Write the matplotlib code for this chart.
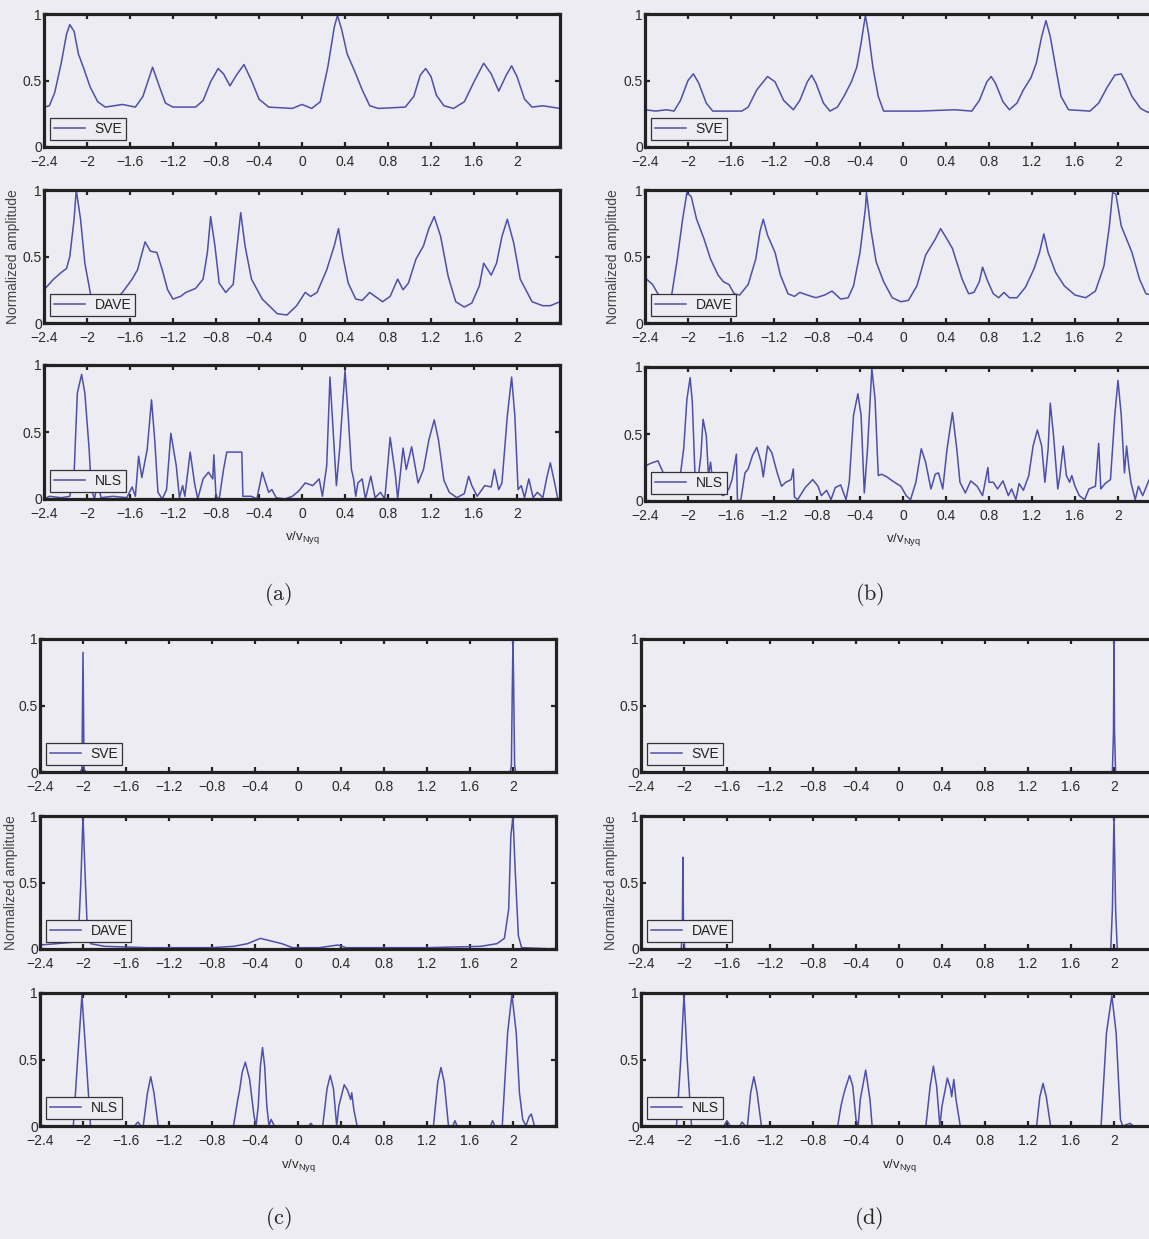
import matplotlib
matplotlib.use('Agg')
import matplotlib.pyplot as plt

W, H = 1149, 1239
BG = '#edecf3'
LINE = '#4d4fa8'
INK = '#222222'

plt.rcParams['font.family'] = ['Liberation Sans', 'DejaVu Sans']
plt.rcParams['mathtext.default'] = 'regular'

# ---------------- labels ----------------
xticks = [-2.4, -2.0, -1.6, -1.2, -0.8, -0.4, 0.0, 0.4, 0.8, 1.2, 1.6, 2.0]
xticklabels = ['\u22122.4', '\u22122', '\u22121.6', '\u22121.2', '\u22120.8', '\u22120.4',
               '0', '0.4', '0.8', '1.2', '1.6', '2']
yticks = [0, 0.5, 1]
yticklabels = ['0', '0.5', '1']
methods = ['SVE', 'DAVE', 'NLS']
panel_names = ['(a)', '(b)', '(c)', '(d)']
ylabel_text = 'Normalized amplitude'
xlabel_text = r'v/v$_{Nyq}$'

# ---------------- data: (normalized frequency, normalized amplitude) ----------------
a_sve = [(-2.40, 0.30), (-2.35, 0.31), (-2.30, 0.41), (-2.24, 0.63), (-2.19, 0.85), (-2.16, 0.92),
         (-2.12, 0.87), (-2.08, 0.70), (-2.03, 0.59), (-1.97, 0.45), (-1.90, 0.34), (-1.83, 0.30),
         (-1.67, 0.32), (-1.55, 0.30), (-1.48, 0.38), (-1.39, 0.60), (-1.32, 0.44), (-1.27, 0.33),
         (-1.20, 0.30), (-1.13, 0.30), (-0.99, 0.30), (-0.92, 0.35), (-0.85, 0.49), (-0.78, 0.59),
         (-0.73, 0.55), (-0.67, 0.46), (-0.61, 0.54), (-0.54, 0.62), (-0.47, 0.50), (-0.40, 0.36),
         (-0.31, 0.30), (-0.09, 0.29), (0.00, 0.32), (0.09, 0.29), (0.17, 0.34), (0.24, 0.60),
         (0.30, 0.90), (0.33, 0.99), (0.37, 0.88), (0.42, 0.70), (0.49, 0.57), (0.56, 0.43),
         (0.63, 0.31), (0.71, 0.29), (0.96, 0.30), (1.04, 0.38), (1.10, 0.54), (1.15, 0.59),
         (1.20, 0.53), (1.25, 0.39), (1.32, 0.31), (1.41, 0.29), (1.51, 0.34), (1.60, 0.49),
         (1.69, 0.63), (1.76, 0.55), (1.83, 0.42), (1.90, 0.54), (1.95, 0.61), (2.00, 0.53),
         (2.07, 0.36), (2.14, 0.30), (2.24, 0.31), (2.40, 0.29)]

a_dave = [(-2.40, 0.25), (-2.31, 0.33), (-2.24, 0.38), (-2.19, 0.41), (-2.16, 0.50), (-2.12, 0.78),
          (-2.10, 1.00), (-2.06, 0.78), (-2.02, 0.45), (-1.97, 0.23), (-1.94, 0.10), (-1.83, 0.10),
          (-1.67, 0.23), (-1.58, 0.33), (-1.53, 0.40), (-1.46, 0.61), (-1.41, 0.54), (-1.35, 0.53),
          (-1.30, 0.40), (-1.25, 0.25), (-1.20, 0.18), (-1.13, 0.20), (-1.08, 0.23), (-0.99, 0.26),
          (-0.92, 0.33), (-0.88, 0.53), (-0.85, 0.80), (-0.81, 0.58), (-0.77, 0.30), (-0.71, 0.23),
          (-0.64, 0.29), (-0.61, 0.53), (-0.57, 0.83), (-0.53, 0.58), (-0.47, 0.33), (-0.37, 0.18),
          (-0.23, 0.07), (-0.14, 0.06), (-0.05, 0.13), (0.03, 0.23), (0.08, 0.20), (0.14, 0.23),
          (0.23, 0.40), (0.30, 0.58), (0.34, 0.71), (0.38, 0.50), (0.43, 0.30), (0.50, 0.18),
          (0.56, 0.17), (0.63, 0.23), (0.68, 0.20), (0.75, 0.16), (0.82, 0.20), (0.89, 0.33),
          (0.94, 0.25), (0.99, 0.30), (1.06, 0.48), (1.13, 0.58), (1.18, 0.71), (1.23, 0.80),
          (1.29, 0.65), (1.36, 0.35), (1.43, 0.16), (1.51, 0.12), (1.58, 0.15), (1.65, 0.28),
          (1.69, 0.45), (1.76, 0.36), (1.81, 0.45), (1.86, 0.65), (1.91, 0.78), (1.97, 0.60),
          (2.03, 0.33), (2.14, 0.16), (2.24, 0.13), (2.31, 0.13), (2.40, 0.16)]

a_nls = [(-2.40, 0.00), (-2.35, 0.02), (-2.24, 0.01), (-2.16, 0.02), (-2.12, 0.19), (-2.09, 0.79),
         (-2.05, 0.93), (-2.02, 0.79), (-1.98, 0.37), (-1.96, 0.07), (-1.93, 0.00), (-1.90, 0.14),
         (-1.87, 0.01), (-1.76, 0.02), (-1.63, 0.01), (-1.58, 0.09), (-1.55, 0.02), (-1.52, 0.32),
         (-1.49, 0.16), (-1.44, 0.37), (-1.40, 0.74), (-1.37, 0.44), (-1.34, 0.05), (-1.30, 0.00),
         (-1.26, 0.07), (-1.22, 0.49), (-1.17, 0.25), (-1.14, 0.01), (-1.11, 0.10), (-1.09, 0.02),
         (-1.04, 0.35), (-1.00, 0.12), (-0.97, 0.00), (-0.92, 0.15), (-0.87, 0.20), (-0.83, 0.15),
         (-0.82, 0.33), (-0.80, 0.02), (-0.77, 0.00), (-0.73, 0.22), (-0.70, 0.35), (-0.63, 0.35),
         (-0.56, 0.35), (-0.55, 0.02), (-0.47, 0.02), (-0.42, 0.00), (-0.37, 0.20), (-0.31, 0.05),
         (-0.28, 0.07), (-0.24, 0.01), (-0.16, 0.00), (-0.09, 0.02), (-0.03, 0.06), (0.03, 0.12),
         (0.10, 0.10), (0.16, 0.15), (0.19, 0.02), (0.23, 0.25), (0.26, 0.91), (0.30, 0.37),
         (0.32, 0.10), (0.35, 0.37), (0.40, 0.96), (0.43, 0.62), (0.46, 0.22), (0.48, 0.15),
         (0.50, 0.02), (0.52, 0.12), (0.56, 0.15), (0.59, 0.00), (0.64, 0.17), (0.68, 0.01),
         (0.73, 0.05), (0.77, 0.00), (0.82, 0.46), (0.87, 0.17), (0.89, 0.00), (0.94, 0.38),
         (0.97, 0.22), (1.02, 0.39), (1.08, 0.12), (1.13, 0.22), (1.18, 0.44), (1.23, 0.59),
         (1.27, 0.44), (1.32, 0.14), (1.37, 0.05), (1.44, 0.01), (1.51, 0.04), (1.55, 0.17),
         (1.58, 0.10), (1.63, 0.02), (1.70, 0.10), (1.76, 0.09), (1.79, 0.22), (1.83, 0.07),
         (1.86, 0.12), (1.91, 0.62), (1.95, 0.91), (1.98, 0.62), (2.01, 0.07), (2.04, 0.10),
         (2.07, 0.01), (2.11, 0.15), (2.15, 0.01), (2.19, 0.05), (2.24, 0.01), (2.28, 0.17),
         (2.31, 0.27), (2.35, 0.12), (2.38, 0.00), (2.40, 0.00)]

b_sve = [(-2.40, 0.28), (-2.30, 0.27), (-2.20, 0.28), (-2.13, 0.27), (-2.07, 0.35), (-2.00, 0.50),
         (-1.95, 0.55), (-1.90, 0.48), (-1.83, 0.33), (-1.77, 0.27), (-1.50, 0.27), (-1.44, 0.30),
         (-1.36, 0.43), (-1.26, 0.53), (-1.19, 0.49), (-1.11, 0.35), (-1.02, 0.28), (-0.96, 0.35),
         (-0.89, 0.49), (-0.85, 0.54), (-0.81, 0.48), (-0.74, 0.33), (-0.68, 0.27), (-0.61, 0.30),
         (-0.55, 0.38), (-0.48, 0.49), (-0.43, 0.60), (-0.39, 0.78), (-0.35, 0.99), (-0.32, 0.85),
         (-0.28, 0.60), (-0.23, 0.38), (-0.18, 0.27), (0.15, 0.27), (0.48, 0.28), (0.64, 0.27),
         (0.71, 0.35), (0.78, 0.49), (0.82, 0.53), (0.86, 0.48), (0.93, 0.34), (0.99, 0.28),
         (1.06, 0.33), (1.12, 0.43), (1.19, 0.52), (1.24, 0.63), (1.29, 0.83), (1.33, 0.95),
         (1.37, 0.83), (1.42, 0.60), (1.47, 0.38), (1.54, 0.28), (1.74, 0.27), (1.82, 0.33),
         (1.90, 0.45), (1.97, 0.54), (2.03, 0.55), (2.07, 0.49), (2.13, 0.38), (2.21, 0.29),
         (2.28, 0.26), (2.36, 0.30), (2.40, 0.32)]

b_dave = [(-2.40, 0.34), (-2.33, 0.29), (-2.28, 0.22), (-2.21, 0.15), (-2.15, 0.22), (-2.10, 0.48),
          (-2.05, 0.78), (-2.01, 0.98), (-1.97, 0.95), (-1.92, 0.78), (-1.85, 0.63), (-1.79, 0.48),
          (-1.72, 0.36), (-1.67, 0.31), (-1.62, 0.29), (-1.57, 0.22), (-1.52, 0.21), (-1.44, 0.29),
          (-1.37, 0.48), (-1.33, 0.69), (-1.30, 0.78), (-1.26, 0.66), (-1.19, 0.53), (-1.14, 0.36),
          (-1.07, 0.22), (-1.01, 0.20), (-0.96, 0.23), (-0.89, 0.21), (-0.81, 0.19), (-0.73, 0.21),
          (-0.66, 0.24), (-0.58, 0.18), (-0.51, 0.19), (-0.46, 0.28), (-0.40, 0.53), (-0.35, 0.86),
          (-0.34, 0.98), (-0.30, 0.71), (-0.25, 0.46), (-0.18, 0.31), (-0.10, 0.19), (-0.02, 0.16),
          (0.05, 0.17), (0.13, 0.28), (0.21, 0.51), (0.30, 0.63), (0.35, 0.71), (0.41, 0.63),
          (0.46, 0.56), (0.55, 0.33), (0.61, 0.22), (0.66, 0.23), (0.71, 0.31), (0.74, 0.42),
          (0.79, 0.31), (0.84, 0.22), (0.89, 0.19), (0.94, 0.23), (0.99, 0.19), (1.06, 0.19),
          (1.14, 0.27), (1.22, 0.41), (1.27, 0.53), (1.31, 0.67), (1.35, 0.53), (1.42, 0.38),
          (1.50, 0.28), (1.60, 0.21), (1.70, 0.19), (1.79, 0.24), (1.87, 0.43), (1.92, 0.73),
          (1.95, 0.98), (1.98, 0.97), (2.03, 0.73), (2.08, 0.63), (2.13, 0.53), (2.20, 0.33),
          (2.26, 0.22), (2.31, 0.21), (2.36, 0.26), (2.40, 0.30)]

b_nls = [(-2.40, 0.26), (-2.35, 0.28), (-2.28, 0.30), (-2.23, 0.21), (-2.17, 0.09), (-2.08, 0.14),
         (-2.04, 0.39), (-2.01, 0.76), (-1.98, 0.92), (-1.96, 0.74), (-1.93, 0.09), (-1.91, 0.14),
         (-1.88, 0.34), (-1.86, 0.61), (-1.83, 0.49), (-1.81, 0.19), (-1.79, 0.29), (-1.77, 0.14),
         (-1.72, 0.06), (-1.67, 0.04), (-1.62, 0.09), (-1.59, 0.16), (-1.55, 0.35), (-1.54, 0.01),
         (-1.51, 0.00), (-1.47, 0.21), (-1.44, 0.24), (-1.40, 0.34), (-1.36, 0.40), (-1.32, 0.29),
         (-1.30, 0.18), (-1.26, 0.41), (-1.22, 0.36), (-1.17, 0.21), (-1.13, 0.11), (-1.09, 0.14),
         (-1.04, 0.16), (-1.02, 0.24), (-1.01, 0.03), (-0.98, 0.01), (-0.91, 0.10), (-0.84, 0.16),
         (-0.79, 0.11), (-0.76, 0.04), (-0.71, 0.08), (-0.67, 0.01), (-0.63, 0.10), (-0.58, 0.12),
         (-0.53, 0.01), (-0.50, 0.14), (-0.46, 0.64), (-0.42, 0.80), (-0.39, 0.64), (-0.36, 0.06),
         (-0.33, 0.39), (-0.29, 0.99), (-0.26, 0.76), (-0.23, 0.19), (-0.20, 0.20), (-0.15, 0.18),
         (-0.08, 0.14), (-0.02, 0.11), (0.03, 0.04), (0.07, 0.01), (0.12, 0.14), (0.17, 0.39),
         (0.21, 0.29), (0.26, 0.09), (0.30, 0.20), (0.33, 0.21), (0.37, 0.09), (0.41, 0.39),
         (0.46, 0.66), (0.50, 0.39), (0.53, 0.14), (0.58, 0.06), (0.63, 0.15), (0.69, 0.11),
         (0.74, 0.04), (0.79, 0.25), (0.80, 0.14), (0.84, 0.14), (0.88, 0.09), (0.93, 0.15),
         (0.98, 0.04), (1.01, 0.09), (1.05, 0.01), (1.08, 0.13), (1.12, 0.08), (1.17, 0.19),
         (1.21, 0.41), (1.25, 0.53), (1.29, 0.41), (1.32, 0.14), (1.35, 0.39), (1.37, 0.73),
         (1.40, 0.49), (1.44, 0.09), (1.46, 0.19), (1.49, 0.41), (1.52, 0.19), (1.55, 0.14),
         (1.57, 0.19), (1.60, 0.11), (1.64, 0.04), (1.69, 0.01), (1.73, 0.09), (1.79, 0.11),
         (1.82, 0.43), (1.84, 0.09), (1.88, 0.13), (1.93, 0.16), (1.97, 0.64), (2.00, 0.90),
         (2.03, 0.64), (2.06, 0.21), (2.08, 0.41), (2.10, 0.26), (2.12, 0.14), (2.16, 0.01),
         (2.19, 0.11), (2.23, 0.04), (2.28, 0.14), (2.33, 0.23), (2.36, 0.14), (2.40, 0.05)]

c_sve = [(-2.40, 0.00), (-2.03, 0.00), (-2.01, 0.02), (-2.00, 0.90), (-1.99, 0.02), (-1.97, 0.00),
         (1.975, 0.00), (1.985, 0.05), (1.993, 0.60), (2.00, 1.00), (2.007, 0.60), (2.015, 0.05),
         (2.025, 0.00), (2.40, 0.00)]

c_dave = [(-2.40, 0.03), (-2.25, 0.04), (-2.10, 0.05), (-2.04, 0.15), (-2.02, 0.50), (-2.00, 1.00),
          (-1.98, 0.55), (-1.96, 0.15), (-1.93, 0.04), (-1.80, 0.02), (-1.40, 0.01), (-0.80, 0.01),
          (-0.60, 0.02), (-0.47, 0.04), (-0.35, 0.08), (-0.25, 0.06), (-0.15, 0.04), (-0.05, 0.01),
          (0.20, 0.01), (0.37, 0.03), (0.45, 0.01), (1.20, 0.01), (1.70, 0.02), (1.85, 0.04),
          (1.92, 0.08), (1.96, 0.30), (1.98, 0.85), (2.00, 1.00), (2.02, 0.60), (2.05, 0.10),
          (2.08, 0.01), (2.40, 0.00)]

c_nls = [(-2.40, 0.00), (-2.20, 0.00), (-2.09, 0.00), (-2.05, 0.50), (-2.01, 0.98), (-1.97, 0.50),
         (-1.93, 0.00), (-1.52, 0.00), (-1.49, 0.03), (-1.46, 0.00), (-1.44, 0.00), (-1.40, 0.25),
         (-1.37, 0.37), (-1.34, 0.25), (-1.30, 0.00), (-0.60, 0.00), (-0.56, 0.20), (-0.545, 0.26),
         (-0.52, 0.40), (-0.49, 0.48), (-0.45, 0.35), (-0.41, 0.08), (-0.39, 0.00), (-0.37, 0.15),
         (-0.35, 0.45), (-0.33, 0.59), (-0.31, 0.45), (-0.29, 0.15), (-0.27, 0.00), (-0.25, 0.05),
         (-0.22, 0.00), (0.10, 0.00), (0.12, 0.02), (0.14, 0.00), (0.23, 0.00), (0.27, 0.28),
         (0.30, 0.38), (0.33, 0.28), (0.36, 0.00), (0.38, 0.15), (0.43, 0.31), (0.46, 0.27),
         (0.49, 0.20), (0.50, 0.25), (0.52, 0.12), (0.55, 0.00), (1.26, 0.00), (1.30, 0.33),
         (1.33, 0.44), (1.36, 0.33), (1.40, 0.00), (1.44, 0.00), (1.46, 0.04), (1.48, 0.00),
         (1.79, 0.00), (1.81, 0.04), (1.83, 0.00), (1.90, 0.00), (1.95, 0.70), (1.99, 0.99),
         (2.03, 0.70), (2.06, 0.25), (2.09, 0.05), (2.12, 0.00), (2.15, 0.07), (2.17, 0.09),
         (2.20, 0.00), (2.40, 0.00)]

d_sve = [(-2.40, 0.00), (1.985, 0.00), (1.995, 0.30), (2.00, 1.00), (2.005, 0.30), (2.015, 0.00),
         (2.40, 0.00)]

d_dave = [(-2.40, 0.00), (-2.025, 0.00), (-2.015, 0.20), (-2.01, 0.69), (-2.005, 0.20),
          (-1.995, 0.00), (1.97, 0.00), (1.985, 0.30), (2.00, 1.00), (2.015, 0.30), (2.03, 0.00),
          (2.40, 0.00)]

d_nls = [(-2.40, 0.00), (-2.07, 0.00), (-2.03, 0.50), (-2.00, 0.99), (-1.97, 0.50), (-1.93, 0.00),
         (-1.63, 0.00), (-1.60, 0.04), (-1.57, 0.00), (-1.48, 0.00), (-1.46, 0.03), (-1.43, 0.00),
         (-1.41, 0.00), (-1.38, 0.25), (-1.35, 0.37), (-1.32, 0.25), (-1.28, 0.00), (-0.57, 0.00),
         (-0.54, 0.15), (-0.52, 0.22), (-0.50, 0.28), (-0.46, 0.38), (-0.43, 0.30), (-0.40, 0.05),
         (-0.38, 0.00), (-0.36, 0.20), (-0.31, 0.42), (-0.27, 0.20), (-0.25, 0.00), (0.25, 0.00),
         (0.29, 0.30), (0.32, 0.45), (0.35, 0.30), (0.38, 0.00), (0.40, 0.15), (0.45, 0.36),
         (0.48, 0.28), (0.49, 0.22), (0.51, 0.35), (0.53, 0.20), (0.57, 0.00), (1.28, 0.00),
         (1.31, 0.22), (1.34, 0.32), (1.37, 0.22), (1.41, 0.00), (1.88, 0.00), (1.93, 0.70),
         (1.98, 0.98), (2.02, 0.70), (2.06, 0.05), (2.08, 0.00), (2.15, 0.02), (2.18, 0.00),
         (2.40, 0.00)]

panel_series = [[a_sve, a_dave, a_nls], [b_sve, b_dave, b_nls],
                [c_sve, c_dave, c_nls], [d_sve, d_dave, d_nls]]

# ---------------- layout (pixels) ----------------
panel_left = [44, 645, 40, 641]
panel_rows = [[(14, 147), (190, 323), (365, 499)],
              [(14, 147), (190, 323), (367, 501)],
              [(639, 772), (816, 949), (993, 1126)],
              [(639, 772), (816, 949), (993, 1126)]]
ax_width = 516
ylabel_x = [13, 613, 11, 611]
xlabel_y = [538, 540, 1165, 1165]
name_pos = [(278, 595), (870, 595), (278, 1218), (869, 1218)]

fig = plt.figure(figsize=(W / 100, H / 100), dpi=100, facecolor=BG)

for p in range(4):
    left = panel_left[p]
    for r in range(3):
        top, bot = panel_rows[p][r]
        ax = fig.add_axes([left / W, 1 - bot / H, ax_width / W, (bot - top) / H])
        ax.set_facecolor('none')
        pts = panel_series[p][r]
        xs = [q[0] for q in pts]
        ys = [q[1] for q in pts]
        ax.plot(xs, ys, color=LINE, lw=1.1, label=methods[r], solid_joinstyle='round')
        ax.set_xlim(-2.4, 2.4)
        ax.set_ylim(0, 1)
        ax.set_xticks(xticks)
        ax.set_xticklabels(xticklabels)
        ax.set_yticks(yticks)
        ax.set_yticklabels(yticklabels)
        ax.tick_params(direction='in', top=True, right=True, length=3.5, width=1.6,
                       color=INK, labelsize=10, labelcolor='#2a2a2a')
        ax.tick_params(axis='x', pad=6)
        ax.tick_params(axis='y', pad=1.5)
        for s in ax.spines.values():
            s.set_linewidth(2.3)
            s.set_color(INK)
        leg = ax.legend(loc='lower left', bbox_to_anchor=(6 / ax_width, 7 / (bot - top)),
                        borderaxespad=0, fontsize=10, handlelength=2.2, handletextpad=0.7,
                        borderpad=0.3, fancybox=False, framealpha=1, facecolor=BG,
                        edgecolor='#333333')
        leg.get_frame().set_linewidth(0.9)
        for t in leg.get_texts():
            t.set_color('#222222')
        if r == 1:
            top1, bot1 = panel_rows[p][1]
            fig.text(ylabel_x[p] / W, 1 - (top1 + bot1) / 2 / H, ylabel_text, rotation=90,
                     ha='center', va='center', fontsize=10, color='#444444')
        if r == 2:
            fig.text((left + ax_width / 2) / W, 1 - xlabel_y[p] / H, xlabel_text,
                     ha='center', va='center', fontsize=9.5, color='#2a2a2a')
    nx, ny = name_pos[p]
    fig.text(nx / W, 1 - ny / H, r'$\mathrm{' + panel_names[p] + '}$', ha='center', va='center',
             fontsize=16, math_fontfamily='cm', color='#222222')

fig.savefig('out.png', dpi=100, facecolor=BG)
